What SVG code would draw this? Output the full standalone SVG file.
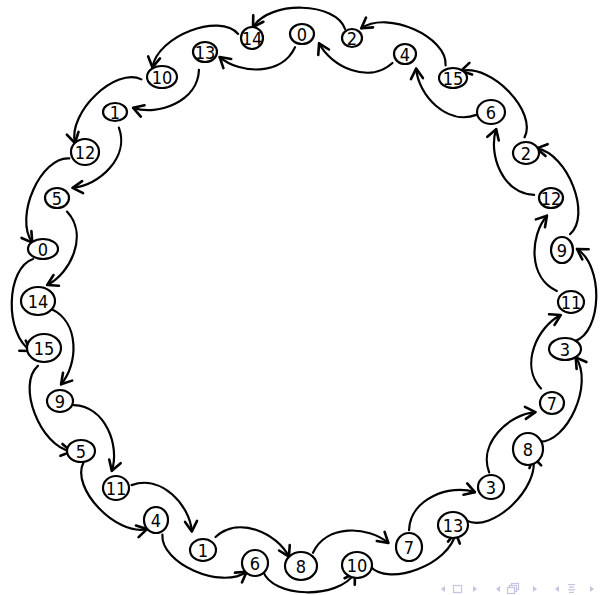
<svg xmlns="http://www.w3.org/2000/svg" width="601" height="595" viewBox="0 0 601 595">
<style>
.node ellipse{fill:#fff;stroke:#000;stroke-width:2.2}
.node text{font-family:"DejaVu Sans Condensed","DejaVu Sans","Liberation Sans",sans-serif;font-size:18px;text-anchor:middle;fill:#000}
.c{fill:none;stroke:#000;stroke-width:2.2;stroke-linecap:round;marker-end:url(#ah)}
.nav{fill:#c4c4e4;stroke:none}
.navs{fill:#fff;stroke:#c4c4e4;stroke-width:1.2}
</style>
<defs>
<marker id="ah" markerUnits="userSpaceOnUse" markerWidth="16" markerHeight="16" viewBox="-12 -8 14 16" refX="0" refY="0" orient="auto">
<path d="M-10,-6 L0,0 L-10,6" fill="none" stroke="#000" stroke-width="2.6" stroke-linecap="round" stroke-linejoin="round"/>
</marker>
</defs>
<g id="connectors">
<path class="c" d="M345,29 C336,2 270,0 253,27" transform="rotate(0 304 300)"/>
<path class="c" d="M345,29 C336,2 270,0 253,27" transform="rotate(22.5 304 300)"/>
<path class="c" d="M345,29 C336,2 270,0 253,27" transform="rotate(45 304 300)"/>
<path class="c" d="M345,29 C336,2 270,0 253,27" transform="rotate(67.5 304 300)"/>
<path class="c" d="M345,29 C336,2 270,0 253,27" transform="rotate(90 304 300)"/>
<path class="c" d="M345,29 C336,2 270,0 253,27" transform="rotate(112.5 304 300)"/>
<path class="c" d="M345,29 C336,2 270,0 253,27" transform="rotate(135 304 300)"/>
<path class="c" d="M345,29 C336,2 270,0 253,27" transform="rotate(157.5 304 300)"/>
<path class="c" d="M345,29 C336,2 270,0 253,27" transform="rotate(180 304 300)"/>
<path class="c" d="M345,29 C336,2 270,0 253,27" transform="rotate(202.5 304 300)"/>
<path class="c" d="M345,29 C336,2 270,0 253,27" transform="rotate(225 304 300)"/>
<path class="c" d="M345,29 C336,2 270,0 253,27" transform="rotate(247.5 304 300)"/>
<path class="c" d="M345,29 C336,2 270,0 253,27" transform="rotate(270 304 300)"/>
<path class="c" d="M345,29 C336,2 270,0 253,27" transform="rotate(292.5 304 300)"/>
<path class="c" d="M345,29 C336,2 270,0 253,27" transform="rotate(315 304 300)"/>
<path class="c" d="M345,29 C336,2 270,0 253,27" transform="rotate(337.5 304 300)"/>
<path class="c" d="M344.5,50.3 C326,76 285,66 268.7,45.3" transform="rotate(-11.25 304 300)"/>
<path class="c" d="M344.5,50.3 C326,76 285,66 268.7,45.3" transform="rotate(11.25 304 300)"/>
<path class="c" d="M344.5,50.3 C326,76 285,66 268.7,45.3" transform="rotate(33.75 304 300)"/>
<path class="c" d="M344.5,50.3 C326,76 285,66 268.7,45.3" transform="rotate(56.25 304 300)"/>
<path class="c" d="M344.5,50.3 C326,76 285,66 268.7,45.3" transform="rotate(78.75 304 300)"/>
<path class="c" d="M344.5,50.3 C326,76 285,66 268.7,45.3" transform="rotate(101.25 304 300)"/>
<path class="c" d="M344.5,50.3 C326,76 285,66 268.7,45.3" transform="rotate(123.75 304 300)"/>
<path class="c" d="M344.5,50.3 C326,76 285,66 268.7,45.3" transform="rotate(146.25 304 300)"/>
<path class="c" d="M344.5,50.3 C326,76 285,66 268.7,45.3" transform="rotate(168.75 304 300)"/>
<path class="c" d="M344.5,50.3 C326,76 285,66 268.7,45.3" transform="rotate(191.25 304 300)"/>
<path class="c" d="M344.5,50.3 C326,76 285,66 268.7,45.3" transform="rotate(213.75 304 300)"/>
<path class="c" d="M344.5,50.3 C326,76 285,66 268.7,45.3" transform="rotate(236.25 304 300)"/>
<path class="c" d="M344.5,50.3 C326,76 285,66 268.7,45.3" transform="rotate(258.75 304 300)"/>
<path class="c" d="M344.5,50.3 C326,76 285,66 268.7,45.3" transform="rotate(281.25 304 300)"/>
<path class="c" d="M344.5,50.3 C326,76 285,66 268.7,45.3" transform="rotate(303.75 304 300)"/>
<path class="c" d="M344.5,50.3 C326,76 285,66 268.7,45.3" transform="rotate(326.25 304 300)"/>
</g>
<g id="n0" class="node"><ellipse cx="252" cy="38" rx="11" ry="11"/><text x="252" y="44.5">14</text></g>
<g id="n1" class="node"><ellipse cx="302" cy="34" rx="12" ry="10"/><text x="302" y="40.5">0</text></g>
<g id="n2" class="node"><ellipse cx="352" cy="38" rx="10" ry="9"/><text x="352" y="44.5">2</text></g>
<g id="n3" class="node"><ellipse cx="405" cy="54" rx="11" ry="10"/><text x="405" y="60.5">4</text></g>
<g id="n4" class="node"><ellipse cx="453" cy="78" rx="14" ry="10"/><text x="453" y="84.5">15</text></g>
<g id="n5" class="node"><ellipse cx="491" cy="112" rx="14" ry="12"/><text x="491" y="118.5">6</text></g>
<g id="n6" class="node"><ellipse cx="526" cy="153" rx="13" ry="11"/><text x="526" y="159.5">2</text></g>
<g id="n7" class="node"><ellipse cx="551" cy="198" rx="12" ry="10"/><text x="551" y="204.5">12</text></g>
<g id="n8" class="node"><ellipse cx="562" cy="250" rx="11" ry="13"/><text x="562" y="256.5">9</text></g>
<g id="n9" class="node"><ellipse cx="571" cy="302" rx="13" ry="11"/><text x="571" y="308.5">11</text></g>
<g id="n10" class="node"><ellipse cx="565" cy="349" rx="16" ry="11"/><text x="565" y="355.5">3</text></g>
<g id="n11" class="node"><ellipse cx="552" cy="403" rx="12" ry="11"/><text x="552" y="409.5">7</text></g>
<g id="n12" class="node"><ellipse cx="528" cy="449" rx="15" ry="16"/><text x="528" y="455.5">8</text></g>
<g id="n13" class="node"><ellipse cx="491" cy="487" rx="13" ry="12"/><text x="491" y="493.5">3</text></g>
<g id="n14" class="node"><ellipse cx="453" cy="525" rx="15" ry="13"/><text x="453" y="531.5">13</text></g>
<g id="n15" class="node"><ellipse cx="409" cy="547" rx="13" ry="14"/><text x="409" y="553.5">7</text></g>
<g id="n16" class="node"><ellipse cx="357" cy="565" rx="15" ry="13"/><text x="357" y="571.5">10</text></g>
<g id="n17" class="node"><ellipse cx="301" cy="566" rx="16" ry="14"/><text x="301" y="572.5">8</text></g>
<g id="n18" class="node"><ellipse cx="255" cy="563" rx="13" ry="13"/><text x="255" y="569.5">6</text></g>
<g id="n19" class="node"><ellipse cx="203" cy="550" rx="13" ry="11"/><text x="203" y="556.5">1</text></g>
<g id="n20" class="node"><ellipse cx="156" cy="520" rx="12" ry="13"/><text x="156" y="526.5">4</text></g>
<g id="n21" class="node"><ellipse cx="116" cy="488" rx="13" ry="12"/><text x="116" y="494.5">11</text></g>
<g id="n22" class="node"><ellipse cx="81" cy="451" rx="14" ry="11"/><text x="81" y="457.5">5</text></g>
<g id="n23" class="node"><ellipse cx="60" cy="401" rx="13" ry="11"/><text x="60" y="407.5">9</text></g>
<g id="n24" class="node"><ellipse cx="44" cy="348" rx="17" ry="14"/><text x="44" y="354.5">15</text></g>
<g id="n25" class="node"><ellipse cx="38" cy="301" rx="17" ry="14"/><text x="38" y="307.5">14</text></g>
<g id="n26" class="node"><ellipse cx="43" cy="249" rx="15" ry="10"/><text x="43" y="255.5">0</text></g>
<g id="n27" class="node"><ellipse cx="57" cy="198" rx="12" ry="10"/><text x="57" y="204.5">5</text></g>
<g id="n28" class="node"><ellipse cx="85" cy="152" rx="14" ry="13"/><text x="85" y="158.5">12</text></g>
<g id="n29" class="node"><ellipse cx="115" cy="112" rx="12" ry="9"/><text x="115" y="118.5">1</text></g>
<g id="n30" class="node"><ellipse cx="162" cy="77" rx="15" ry="11"/><text x="162" y="83.5">10</text></g>
<g id="n31" class="node"><ellipse cx="205" cy="52" rx="12" ry="10"/><text x="205" y="58.5">13</text></g>
<g id="navigation">
<polygon class="nav" points="445,586 441,589 445,592"/>
<rect class="navs" x="453.5" y="585.5" width="8" height="7"/>
<polygon class="nav" points="473,586 477,589 473,592"/>
<polygon class="nav" points="500,586 496,589 500,592"/>
<rect class="navs" x="511.5" y="583.5" width="7" height="6"/>
<rect class="navs" x="509.5" y="585.5" width="7" height="6"/>
<rect class="navs" x="507.5" y="587.5" width="7" height="6"/>
<polygon class="nav" points="533,586 537,589 533,592"/>
<polygon class="nav" points="559,586 555,589 559,592"/>
<rect class="nav" x="568" y="584" width="7" height="1.2"/>
<rect class="nav" x="569" y="586.6" width="5" height="1.2"/>
<rect class="nav" x="568" y="589.2" width="7" height="1.2"/>
<rect class="nav" x="569" y="591.8" width="5" height="1.2"/>
<polygon class="nav" points="590,586 594,589 590,592"/>
</g>
</svg>
